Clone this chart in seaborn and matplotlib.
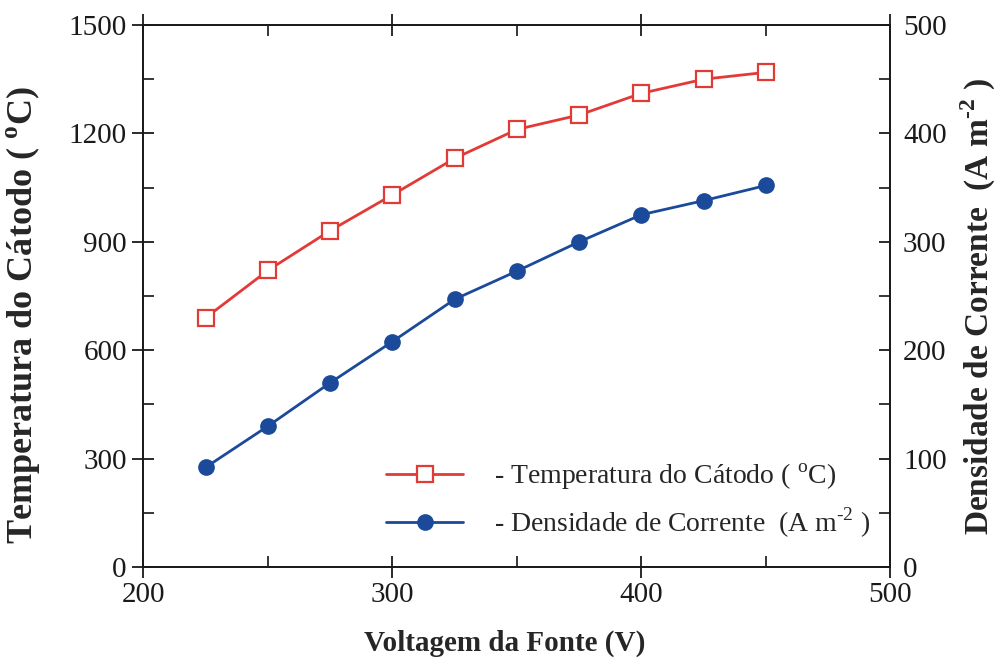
import matplotlib
matplotlib.use("Agg")
import matplotlib.pyplot as plt
from matplotlib.ticker import MultipleLocator
import numpy as np
import pandas as pd
import seaborn as sns

# Source voltage (V)
voltagem = [225, 250, 275, 300, 325, 350, 375, 400, 425, 450]
# Cathode temperature (°C)
temperatura = [690, 821, 931, 1030, 1131, 1211, 1251, 1311, 1350, 1369]
# Current density (A m^-2)
densidade = [92, 130, 170, 208, 247, 273, 300, 325, 338, 352]

x_ticks = [200, 300, 400, 500]
y1_ticks = [0, 300, 600, 900, 1200, 1500]
y2_ticks = [0, 100, 200, 300, 400, 500]

RED = "#e23a36"
BLUE = "#1a4a99"

sns.set_theme(style="ticks")
plt.rcParams["font.family"] = ["Liberation Serif", "DejaVu Serif"]
plt.rcParams["mathtext.fontset"] = "custom"
plt.rcParams["mathtext.rm"] = "Liberation Serif"
plt.rcParams["mathtext.bf"] = "Liberation Serif:bold"
plt.rcParams["axes.linewidth"] = 1.3
plt.rcParams["axes.edgecolor"] = "#1a1a1a"

df = pd.DataFrame({"voltagem": voltagem, "temperatura": temperatura, "densidade": densidade})

fig = plt.figure(figsize=(10.03, 6.60), dpi=100)
ax = fig.add_axes([143.5 / 1003, 93 / 660, 747 / 1003, 542 / 660])
ax2 = ax.twinx()

sns.lineplot(data=df, x="voltagem", y="temperatura", ax=ax, color=RED, lw=2.0,
             marker="s", markersize=11, markerfacecolor="white",
             markeredgecolor=RED, markeredgewidth=1.6,
             label="- Temperatura do Cátodo ( $^{\\mathrm{o}}$C)", legend=False)
sns.lineplot(data=df, x="voltagem", y="densidade", ax=ax2, color=BLUE, lw=2.0,
             marker="o", markersize=11, markerfacecolor=BLUE,
             markeredgecolor=BLUE, markeredgewidth=1.0,
             label="- Densidade de Corrente  (A m$^{\\mathrm{\u2010}2}$ )", legend=False)

ax.set_xlim(200, 500)
ax.set_ylim(0, 1500)
ax2.set_ylim(0, 500)
ax.set_xticks(x_ticks)
ax.set_yticks(y1_ticks)
ax2.set_yticks(y2_ticks)
ax.xaxis.set_minor_locator(MultipleLocator(50))
ax.yaxis.set_minor_locator(MultipleLocator(150))
ax2.yaxis.set_minor_locator(MultipleLocator(50))

ax.tick_params(axis="x", which="major", direction="inout", length=16, width=1.3,
               labelsize=21, pad=3, top=True, colors="#1a1a1a")
ax.tick_params(axis="x", which="minor", direction="in", length=8, width=1.3, top=True)
ax.tick_params(axis="y", which="major", direction="inout", length=16, width=1.3,
               labelsize=21, pad=4, right=False, colors="#1a1a1a")
ax.tick_params(axis="y", which="minor", direction="in", length=8, width=1.3, right=False)
ax2.tick_params(axis="y", which="major", direction="in", length=8, width=1.3,
                labelsize=21, pad=9, colors="#1a1a1a")
ax2.tick_params(axis="y", which="minor", direction="in", length=8, width=1.3)

ax.set_xlabel("Voltagem da Fonte (V)", fontsize=21, fontweight="bold")
ax.xaxis.set_label_coords(0.483, -0.115)
ax.set_ylabel("Temperatura do Cátodo ( $^{\\mathbf{o}}$C)", fontsize=26, fontweight="bold")
ax.yaxis.set_label_coords(-0.136, 0.465)
ax2.set_ylabel("Densidade de Corrente  (A m$^{\\mathbf{\u2010}\\mathbf{2}}$ )", fontsize=24,
               fontweight="bold")
ax2.yaxis.set_label_coords(1.092, 0.48)

h1, l1 = ax.get_legend_handles_labels()
h2, l2 = ax2.get_legend_handles_labels()
ax2.legend(h1 + h2, l1 + l2, loc="upper left", bbox_to_anchor=(0.31, 0.215),
           frameon=False, fontsize=20, handlelength=2.77, handletextpad=1.1,
           labelspacing=0.5, borderaxespad=0, numpoints=1)

fig.savefig("out.png", dpi=100, facecolor="white")
